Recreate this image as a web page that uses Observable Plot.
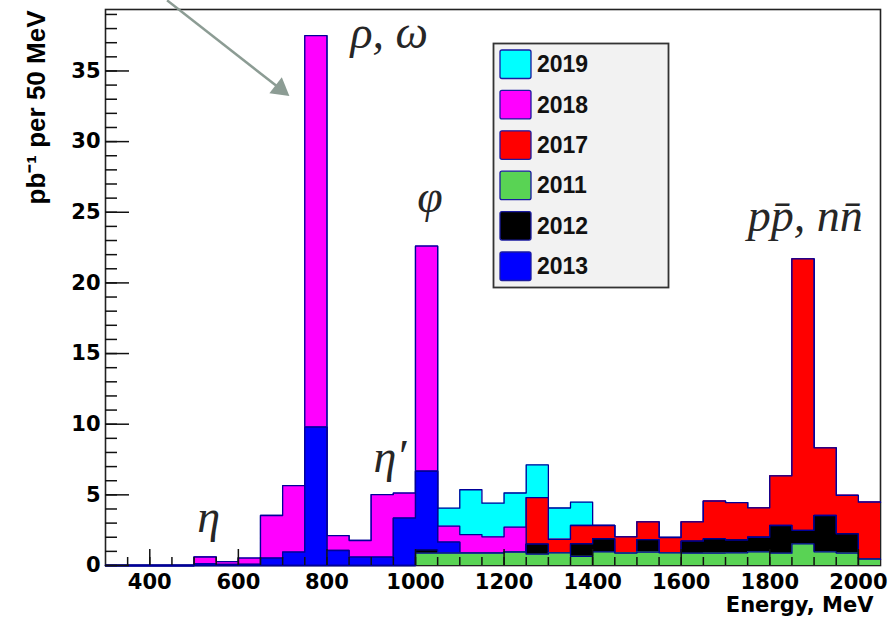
<!DOCTYPE html>
<html>
<head>
<meta charset="utf-8">
<script src="https://cdn.jsdelivr.net/npm/d3@7"></script>
<script src="https://cdn.jsdelivr.net/npm/@observablehq/plot@0.6"></script>
<style>
  html, body { margin: 0; padding: 0; background: white; }
  #chart { width: 895px; height: 625px; }
</style>
</head>
<body>
<div id="chart"></div>
<script>
// ---- data (pb^-1 per 50 MeV bin, each year's own contribution) ----
const binStart = [300,350,400,450,500,550,600,650,700,750,800,850,900,950,1000,1050,1100,1150,1200,1250,1300,1350,1400,1450,1500,1550,1600,1650,1700,1750,1800,1850,1900,1950,2000];
const binWidth = 50;

const y2011 = [0,0,0,0,0,0,0,0,0,0,0,0,0,0,0.87,0.87,0.87,0.87,0.94,0.80,0.90,0.65,0.96,0.88,0.95,0.90,0.87,0.88,0.90,0.97,0.87,1.53,0.97,0.88,0.45];
const y2012 = [0,0,0,0,0,0,0,0,0,0,0,0,0,0,0.24,0,0,0,0,0.71,0,0.88,0.93,0,0.88,0,0.85,1.00,0.90,1.03,1.96,0.95,2.57,1.36,0];
const y2013 = [0,0,0,0,0.12,0.07,0.08,0.52,0.94,9.80,1.06,0.59,0.59,3.35,5.56,0.78,0,0,0,0,0,0,0,0,0,0,0,0,0,0,0,0,0,0,0];
const y2017 = [0,0,0,0,0,0,0,0,0,0,0,0,0,0,0,0,0,0,0,3.29,0.95,1.30,0.94,1.14,1.26,1.08,1.37,2.68,2.65,2.08,3.52,19.22,4.79,2.73,4.03];
const y2018 = [0,0,0,0,0.48,0.21,0.44,3.02,4.72,27.70,1.06,1.18,4.43,1.77,15.93,1.13,1.32,1.16,1.77,0,0,0,0,0,0,0,0,0,0,0,0,0,0,0,0];
const y2019 = [0,0,0,0,0,0,0,0,0,0,0,0,0,0,0,1.28,3.17,2.38,2.42,2.32,2.22,1.65,0,0,0,0,0,0,0,0,0,0,0,0,0];

// stacking order, bottom to top
const stackYears  = ["2011","2012","2013","2017","2018","2019"];
const stackValues = [y2011, y2012, y2013, y2017, y2018, y2019];
const stackColors = ["#59d354","#000000","#0000ff","#ff0000","#ff00ff","#00ffff"];
// legend order (top to bottom)
const legendYears = ["2019","2018","2017","2011","2012","2013"];

// axis ticks
const xLabels = [400,600,800,1000,1200,1400,1600,1800,2000];
const xMinor = d3.range(350, 2050, 50);
const yLabels = [0,5,10,15,20,25,30,35];
const yMinor = d3.range(0, 40, 1);

// annotations (data coordinates, baseline)
const annoText = ["ρ, ω", "φ", "η′", "η", "pp\u0304, nn\u0304"];
const annoX = [853, 1004, 905, 507, 1750];
const annoY = [36.66, 25.0, 6.65, 2.36, 23.7];

// arrow (data coordinates)
const arrowFrom = [439, 40.0];
const arrowTo = [714, 33.26];

// ---- build cumulative step series ----
const W = 895, H = 625;
const mL = 105, mR = 15, mT = 9, mB = 60;
const innerW = W - mL - mR, innerH = H - mT - mB;

const layers = stackYears.map((year, k) => {
  const cum = binStart.map((_, i) => d3.sum(stackValues.slice(0, k + 1), v => v[i]));
  const pts = binStart.map((x, i) => ({x, top: cum[i]}));
  pts.push({x: binStart[binStart.length - 1] + binWidth, top: cum[cum.length - 1]});
  return {year, color: stackColors[k], pts};
});

const histMarks = [];
for (let k = layers.length - 1; k >= 0; k--) {
  const L = layers[k];
  histMarks.push(Plot.areaY(L.pts, {x: "x", y1: 0, y2: "top", curve: "step-after", fill: L.color}));
  histMarks.push(Plot.line(L.pts, {x: "x", y: "top", curve: "step-after", stroke: "#000099", strokeWidth: 1.3}));
}

const annos = annoText.map((t, i) => ({t, x: annoX[i], y: annoY[i]}));
const t = 0.929;
const headPos = [{x: arrowFrom[0] + t * (arrowTo[0] - arrowFrom[0]), y: arrowFrom[1] + t * (arrowTo[1] - arrowFrom[1])}];

const chart = Plot.plot({
  width: W, height: H,
  marginLeft: mL, marginRight: mR, marginTop: mT, marginBottom: mB,
  style: {background: "white", fontFamily: "DejaVu Sans", overflow: "visible"},
  x: {domain: [300, 2050], label: null},
  y: {domain: [0, 39.35], label: null},
  marks: [
    Plot.frame({stroke: "#222", strokeWidth: 1.6}),
    ...histMarks,
    // inward ticks
    Plot.tickY(yMinor, {y: d => d, insetRight: innerW - 12, stroke: "#111", strokeWidth: 1.5}),
    Plot.tickY(yLabels, {y: d => d, insetRight: innerW - 24, stroke: "#111", strokeWidth: 1.5}),
    Plot.tickX(xMinor, {x: d => d, insetTop: innerH - 8, stroke: "#111", strokeWidth: 1.5}),
    Plot.tickX(xLabels, {x: d => d, insetTop: innerH - 16, stroke: "#111", strokeWidth: 1.5}),
    Plot.axisX({ticks: xLabels, tickSize: 0, tickPadding: 9, fontSize: 21, fontWeight: "bold", fontFamily: "DejaVu Sans", label: null, tickFormat: d => String(d)}),
    Plot.axisY({ticks: yLabels, tickSize: 0, tickPadding: 5, fontSize: 21, fontWeight: "bold", fontFamily: "DejaVu Sans", label: null}),
    Plot.text(["Energy, MeV"], {frameAnchor: "bottom-right", textAnchor: "end", dx: -7, dy: 46, fontSize: 21, fontWeight: "bold", fontFamily: "DejaVu Sans", fill: "#000"}),
    Plot.text(["pb\u207B\u00B9 per 50 MeV"], {frameAnchor: "top-left", rotate: -90, textAnchor: "end", dx: -79, dy: 1, fontSize: 26, fontWeight: "bold", fontFamily: "Liberation Sans", fill: "#000"}),
    // annotations
    Plot.text(annos, {x: "x", y: "y", text: "t", textAnchor: "start", fontSize: 46, fontStyle: "italic", fontFamily: "Liberation Serif", fill: "#262626", dy: -14.7}),
    Plot.link([{x1: arrowFrom[0], y1: arrowFrom[1], x2: headPos[0].x, y2: headPos[0].y}], {x1: "x1", y1: "y1", x2: "x2", y2: "y2", stroke: "#8c9c94", strokeWidth: 2.5}),
    Plot.dot(headPos, {x: "x", y: "y", symbol: "triangle", r: 7.5, fill: "#8c9c94", stroke: "none", rotate: 128})
  ]
});

document.getElementById("chart").appendChild(chart);

// ---- legend box ----
const svg = d3.select(chart);
const colorOf = Object.fromEntries(stackYears.map((y, i) => [y, stackColors[i]]));
const lg = svg.append("g").attr("class", "legend").attr("text-anchor", "start");
lg.append("rect").attr("x", 493.5).attr("y", 43.5).attr("width", 175).attr("height", 244)
  .attr("fill", "#f2f2f2").attr("stroke", "#333").attr("stroke-width", 1.8);
legendYears.forEach((yr, i) => {
  const cy = 64.2 + i * 40.4;
  lg.append("rect").attr("x", 500).attr("y", cy - 14.2).attr("width", 31).attr("height", 28.5)
    .attr("rx", 2).attr("fill", colorOf[yr]).attr("stroke", "#1a1aa0").attr("stroke-width", 1.3);
  lg.append("text").attr("x", 537).attr("y", cy + 8).attr("text-anchor", "start")
    .attr("font-family", "Liberation Sans").attr("font-weight", "bold").attr("font-size", 23)
    .attr("fill", "#111").text(yr);
});
</script>
</body>
</html>
